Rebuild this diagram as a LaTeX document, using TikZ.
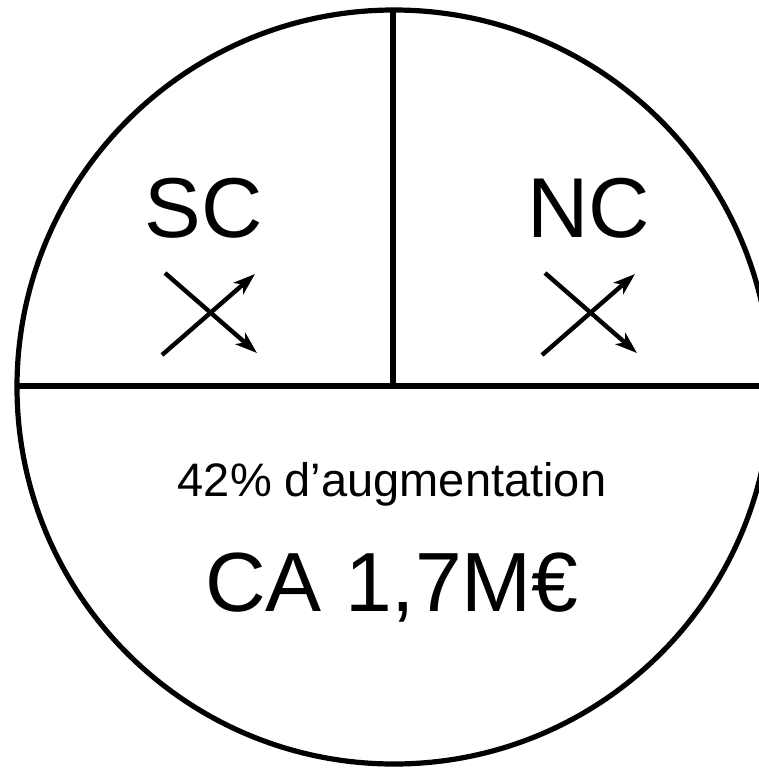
\documentclass[tikz,border=0pt]{standalone}
\usepackage{fontspec}
\setmainfont{Liberation Sans}
\usetikzlibrary{arrows.meta}
\tikzset{
  frame/.style={line width=5.2pt, black},
  cross/.style={line width=4.4pt, black, -{Stealth[length=22pt,width=15pt,inset=6pt]}},
  big/.style={inner sep=0pt, anchor=base, font=\fontsize{85}{100}\selectfont},
  mid/.style={inner sep=0pt, anchor=base, font=\fontsize{47}{56}\selectfont},
}
\begin{document}
\begin{tikzpicture}[x=1pt,y=-1pt]
\useasboundingbox (0,0) rectangle (759,768);
\clip (0,0) rectangle (759,768);
\coordinate (c) at (394,387);
\draw[frame] (c) circle[radius=377];
\coordinate (top) at (393,9);
\coordinate (mid) at (393,386);
\coordinate (left) at (17,386);
\coordinate (right) at (765,386);
\draw[frame] (top) -- (mid);
\draw[frame] (left) -- (right);
\node[big] (sc) at (204,237) {SC};
\node[big] (nc) at (589,237) {NC};
\coordinate (s1a) at (165,273); \coordinate (s1b) at (257,353);
\coordinate (s2a) at (162,355); \coordinate (s2b) at (255,274);
\draw[cross] (s1a) -- (s1b);
\draw[cross] (s2a) -- (s2b);
\coordinate (n1a) at (545,273); \coordinate (n1b) at (637,353);
\coordinate (n2a) at (542,355); \coordinate (n2b) at (635,274);
\draw[cross] (n1a) -- (n1b);
\draw[cross] (n2a) -- (n2b);
\node[mid] (aug) at (392,496) {42\% d’augmentation};
\node[big, font=\fontsize{84}{100}\selectfont] (ca) at (392,611) {CA 1,7M€};
\end{tikzpicture}
\end{document}
